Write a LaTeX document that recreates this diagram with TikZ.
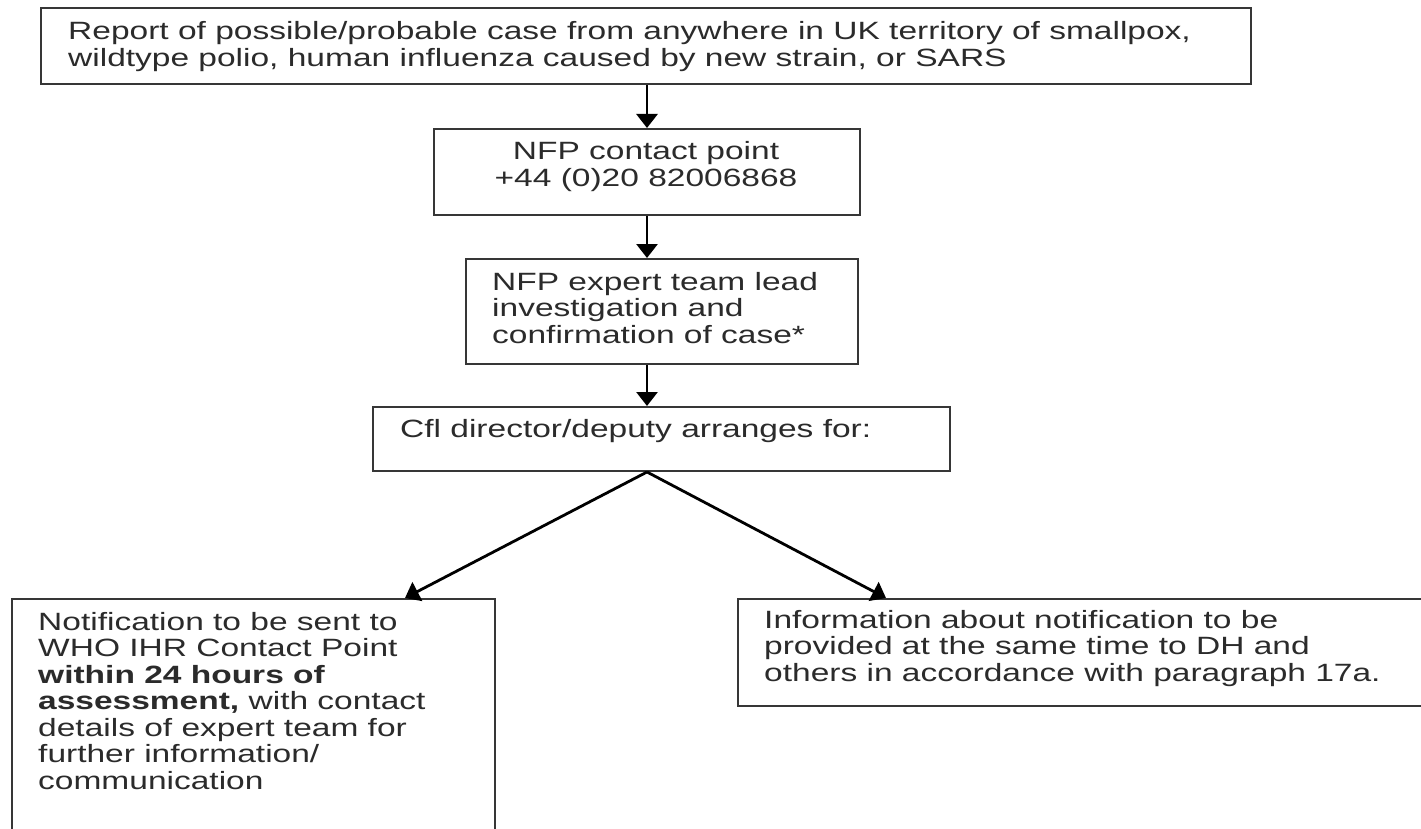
\documentclass[tikz,border=0pt]{standalone}
\usepackage{fontspec}
\setmainfont{Liberation Sans}[FakeStretch=1.34]
\usetikzlibrary{arrows.meta}
\definecolor{boxgray}{HTML}{363636}
\definecolor{textgray}{HTML}{2B2B2B}
% multi-line text whose baseline is that of its first line
\newcommand\txtlines[2]{\begin{tabular}[t]{@{}#1@{}}#2\end{tabular}}
\begin{document}
\begin{tikzpicture}[x=1pt,y=-1pt,
  box/.style={draw=boxgray, line width=2pt, rectangle, inner sep=0pt, anchor=north west},
  txt/.style={inner sep=0pt, anchor=base west,
    font=\fontsize{25}{26.5}\selectfont, text=textgray},
  arr/.style={draw=black, line width=2.8pt, -{Triangle[width=21pt,length=14pt]}}]
\fill[white] (0,0) rectangle (1421,829);
\clip (0,0) rectangle (1421,829);

% boxes
\node[box, minimum width=1210pt, minimum height=76pt] (b1) at (40,7) {};
\node[box, minimum width=426pt, minimum height=86pt] (b2) at (433,128) {};
\node[box, minimum width=392pt, minimum height=105pt] (b3) at (465,258) {};
\node[box, minimum width=577pt, minimum height=64pt] (b4) at (372,406) {};
\node[box, minimum width=483pt, minimum height=280pt] (b5) at (11,598) {};
\node[box, minimum width=720pt, minimum height=107pt] (b6) at (737,598) {};

% texts
\node[txt] (t1) at (68,40) {\txtlines{l}{Report of possible/probable case from anywhere in UK territory of smallpox,\\
  wildtype polio, human influenza caused by new strain, or SARS}};
\node[txt, anchor=base] (t2) at (646,160) {\txtlines{c}{NFP contact point\\+44 (0)20 82006868}};
\node[txt] (t3) at (492,290) {\txtlines{l}{NFP expert team lead\\investigation and\\confirmation of case*}};
\node[txt] (t4) at (400,437) {Cfl director/deputy arranges for:};
\node[txt] (t5) at (38,630) {\txtlines{l}{Notification to be sent to\\WHO IHR Contact Point\\
  \textbf{within 24 hours of}\\\textbf{assessment,} with contact\\details of expert team for\\
  further information/\\communication}};
\node[txt] (t6) at (764,628) {\txtlines{l}{Information about notification to be\\provided at the same time to DH and\\
  others in accordance with paragraph 17a.}};

% connectors
\draw[arr] (b2.north |- b1.south) -- (b2.north);
\draw[arr] (b2.south) -- (b2.south |- b3.north);
\draw[arr] (b2.south |- b3.south) -- (b2.south |- b4.north);
\coordinate (fork) at (b2.south |- b4.south);
\draw[arr] (fork) -- (405,0 |- b5.north);
\draw[arr] (fork) -- (886,0 |- b6.north);
\end{tikzpicture}
\end{document}
